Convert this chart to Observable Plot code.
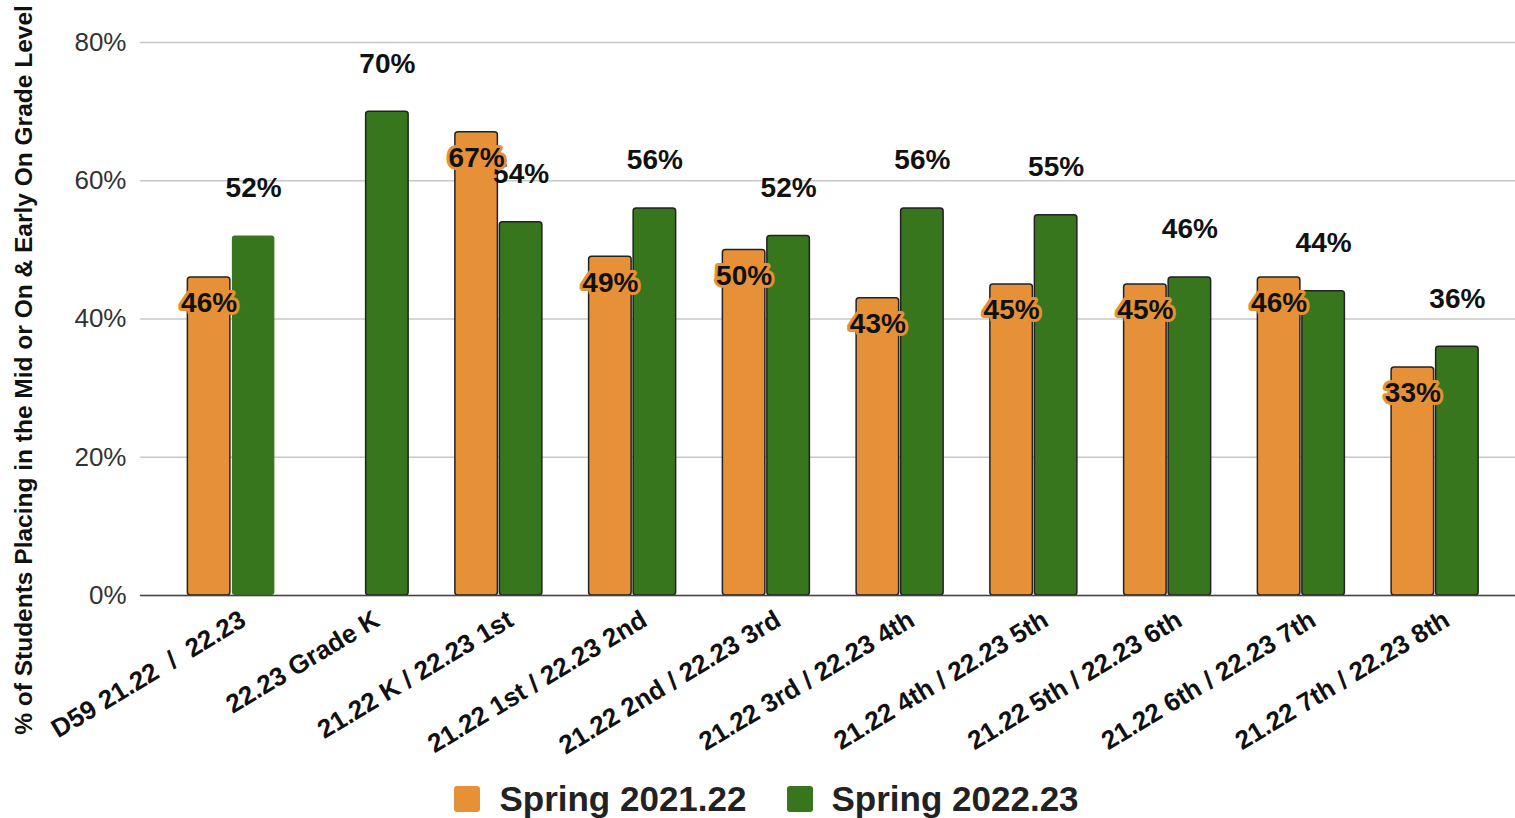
<!DOCTYPE html>
<html><head><meta charset="utf-8">
<script src="https://cdn.jsdelivr.net/npm/d3@7"></script>
<script src="https://cdn.jsdelivr.net/npm/@observablehq/plot@0.6"></script>
<style>
body{margin:0;background:#fff;font-family:"Liberation Sans",Arial,sans-serif;}
#legend{display:flex;justify-content:center;align-items:center;height:56px;font-weight:bold;font-size:35px;color:#222;padding-left:18px;padding-top:9px}
#legend .item{display:flex;align-items:center;margin:0 20px}
#legend .sw{display:inline-block;width:26px;height:26px;border-radius:3px;margin-right:19px}
</style></head><body><div id="chart"></div><div id="legend"></div>
<script>
const categories = ["D59 21.22  /  22.23","22.23 Grade K","21.22 K / 22.23 1st","21.22 1st / 22.23 2nd","21.22 2nd / 22.23 3rd","21.22 3rd / 22.23 4th","21.22 4th / 22.23 5th","21.22 5th / 22.23 6th","21.22 6th / 22.23 7th","21.22 7th / 22.23 8th"];
const spring2122 = [46, null, 67, 49, 50, 43, 45, 45, 46, 33];
const spring2223 = [52, 70, 54, 56, 52, 56, 55, 46, 44, 36];
const seriesNames = ["Spring 2021.22", "Spring 2022.23"];
const seriesColors = ["#E69138", "#38761D"];
const yTicks = [0, 20, 40, 60, 80];
const yTitle = "% of Students Placing in the Mid or On & Early On Grade Level";

const rowsA = categories.map((c, i) => ({cat: c, value: spring2122[i], series: seriesNames[0]})).filter(d => d.value != null);
const rowsB = categories.map((c, i) => ({cat: c, value: spring2223[i], series: seriesNames[1]}));

const x0 = 164, x1 = 1501.5;
const step = (x1 - x0) / categories.length;
const half = step / 2;
const barW = 42.5, gap = 1;

const chart = Plot.plot({
  width: 1515,
  height: 762,
  marginLeft: 140,
  marginRight: 0,
  marginTop: 42,
  marginBottom: 167,
  style: {fontFamily: "'Liberation Sans', Arial, sans-serif", background: "#fff"},
  x: {type: "band", domain: categories, range: [x0, x1], padding: 0, round: false},
  y: {domain: [0, 80], label: null},
  marks: [
    Plot.gridY(yTicks, {stroke: "#c8c8c8", strokeOpacity: 1, strokeWidth: 1.3}),
    Plot.barY(rowsA, {x: "cat", y: "value", fill: seriesColors[0], stroke: "#222", strokeWidth: 1.5, rx: 3,
      insetLeft: half - barW - gap, insetRight: half + gap}),
    Plot.barY(rowsB, {x: "cat", y: "value", fill: seriesColors[1], stroke: "#222", strokeWidth: 1.5, rx: 3,
      insetLeft: half + gap, insetRight: half - barW - gap, filter: (d, i) => i > 0}),
    Plot.barY(rowsB, {x: "cat", y: "value", fill: seriesColors[1], rx: 3,
      insetLeft: half + gap, insetRight: half - barW - gap, filter: (d, i) => i === 0}),
    Plot.ruleY([0], {stroke: "#444", strokeWidth: 1.5}),
    Plot.axisY({ticks: yTicks, tickFormat: d => d + "%", tickSize: 0, tickPadding: 14, fontSize: 26, fill: "#333", label: null}),
    Plot.axisX({tickRotate: -31, tickSize: 0, tickPadding: 10, dx: 12, dy: 12, fontSize: 26, fontWeight: "bold", fill: "#111", label: null}),
    Plot.text(rowsB, {x: "cat", y: "value", text: d => d.value + "%", dx: barW / 2 + gap, dy: -48,
      fontSize: 28, fontWeight: "bold", fill: "#111"}),
    Plot.text(rowsA, {x: "cat", y: "value", text: d => d.value + "%", dx: -(barW / 2 + gap), dy: 26,
      fontSize: 28, fontWeight: "bold", fill: "#111", stroke: seriesColors[0], strokeWidth: 6, paintOrder: "stroke"})
  ]
});

d3.select(chart).append("text")
  .attr("transform", "translate(32,370) rotate(-90)")
  .attr("text-anchor", "middle")
  .attr("font-size", 24.5)
  .attr("font-weight", "bold")
  .attr("fill", "#111")
  .text(yTitle);

document.getElementById("chart").appendChild(chart);

const legend = document.getElementById("legend");
seriesNames.forEach((name, i) => {
  const item = document.createElement("span");
  item.className = "item";
  const sw = document.createElement("span");
  sw.className = "sw";
  sw.style.background = seriesColors[i];
  item.appendChild(sw);
  item.appendChild(document.createTextNode(name));
  legend.appendChild(item);
});
</script>
</body></html>
